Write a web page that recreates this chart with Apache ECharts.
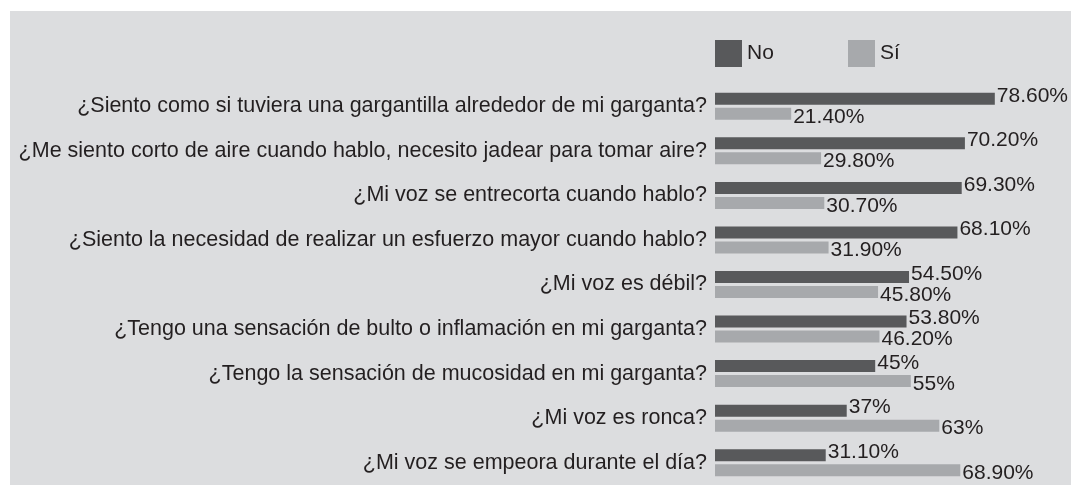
<!DOCTYPE html>
<html>
<head>
<meta charset="utf-8">
<script src="https://cdn.jsdelivr.net/npm/echarts@6/dist/echarts.min.js"></script>
<style>
  html, body { margin: 0; padding: 0; background: #fff; }
  #chart { width: 1071px; height: 485px; }
</style>
</head>
<body>
<div id="chart"></div>
<script>
// preguntas (de arriba a abajo)
const categories = [
    "¿Siento como si tuviera una gargantilla alrededor de mi garganta?",
    "¿Me siento corto de aire cuando hablo, necesito jadear para tomar aire?",
    "¿Mi voz se entrecorta cuando hablo?",
    "¿Siento la necesidad de realizar un esfuerzo mayor cuando hablo?",
    "¿Mi voz es débil?",
    "¿Tengo una sensación de bulto o inflamación en mi garganta?",
    "¿Tengo la sensación de mucosidad en mi garganta?",
    "¿Mi voz es ronca?",
    "¿Mi voz se empeora durante el día?"
];
const noValues = [78.6, 70.2, 69.3, 68.1, 54.5, 53.8, 45, 37, 31.1];
const siValues = [21.4, 29.8, 30.7, 31.9, 45.8, 46.2, 55, 63, 68.9];
const noLabels = ["78.60%", "70.20%", "69.30%", "68.10%", "54.50%", "53.80%", "45%", "37%", "31.10%"];
const siLabels = ["21.40%", "29.80%", "30.70%", "31.90%", "45.80%", "46.20%", "55%", "63%", "68.90%"];

const chart = echarts.init(document.getElementById("chart"));
const font = "Arial, 'Liberation Sans', sans-serif";
const textColor = "#231f20";

// una leyenda por serie para fijar su posición
function makeLegend(name, left) {
    return {
        left: left,
        top: 40,
        padding: 0,
        itemWidth: 27,
        itemHeight: 27,
        icon: "rect",
        textStyle: { fontFamily: font, fontSize: 21, color: textColor },
        data: [name]
    };
}

const option = {
    backgroundColor: "#ffffff",
    animation: false,
    graphic: [{
        type: "rect",
        z: -10,
        shape: { x: 10, y: 11, width: 1061, height: 474 },
        style: { fill: "#dcdddf" }
    }],
    legend: [makeLegend("No", 715), makeLegend("Sí", 848)],
    grid: { left: 715, top: 84, width: 360, height: 405, containLabel: false },
    xAxis: {
        type: "value",
        min: 0,
        max: 100,
        show: false
    },
    yAxis: {
        type: "category",
        inverse: true,
        data: categories,
        axisLine: { show: false },
        axisTick: { show: false },
        axisLabel: { margin: 8, fontFamily: font, fontSize: 21.5, color: textColor }
    },
    series: [
        {
            name: "No",
            type: "bar",
            data: noValues,
            barWidth: 12,
            barGap: "25%",
            itemStyle: { color: "#58595b" },
            label: {
                show: true,
                position: "right",
                distance: 2,
                offset: [0, -3],
                fontFamily: font,
                fontSize: 21,
                color: textColor,
                formatter: p => noLabels[p.dataIndex]
            }
        },
        {
            name: "Sí",
            type: "bar",
            data: siValues,
            barWidth: 12,
            itemStyle: { color: "#a7a9ac" },
            label: {
                show: true,
                position: "right",
                distance: 2,
                offset: [0, 3],
                fontFamily: font,
                fontSize: 21,
                color: textColor,
                formatter: p => siLabels[p.dataIndex]
            }
        }
    ]
};

chart.setOption(option);
</script>
</body>
</html>
